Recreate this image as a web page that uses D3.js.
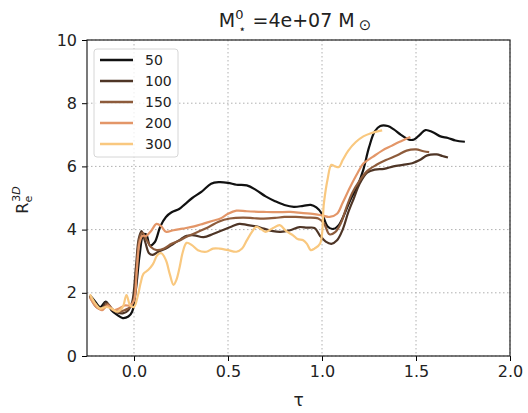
<!DOCTYPE html>
<html>
<head>
<meta charset="utf-8">
<title>Re3D vs tau</title>
<script src="https://cdn.jsdelivr.net/npm/d3@7"></script>
<style>
body { margin:0; background:#fff; }
text { font-family: "DejaVu Sans", sans-serif; fill:#222; }
.grid line { stroke:#b0b0b0; stroke-dasharray:1.5,2.5; stroke-width:1; }
</style>
</head>
<body>
<script>
// series labels and colours
const labels = ["50","100","150","200","300"];
const colors = ["#111111","#4e3526","#8d5b3b","#e39668","#f9c87f"];

// values: [tau, R_e^3D]
const s50 = [[-0.235,1.92],[-0.21,1.75],[-0.18,1.55],[-0.15,1.72],[-0.12,1.45],[-0.09,1.3],[-0.06,1.2],[-0.03,1.25],[-0.01,1.4],[0.01,2.1],[0.03,3.2],[0.05,3.85],[0.065,3.85],[0.085,3.5],[0.11,3.6],[0.14,4.1],[0.17,4.4],[0.2,4.55],[0.24,4.65],[0.27,4.8],[0.31,5.0],[0.36,5.2],[0.41,5.45],[0.45,5.5],[0.5,5.48],[0.545,5.42],[0.6,5.4],[0.65,5.25],[0.7,5.05],[0.75,4.9],[0.8,4.78],[0.85,4.72],[0.9,4.75],[0.94,4.78],[0.97,4.7],[1.0,4.5],[1.03,4.1],[1.06,4.02],[1.09,4.15],[1.12,4.5],[1.15,4.93],[1.19,5.4],[1.22,5.9],[1.25,6.6],[1.28,7.1],[1.31,7.28],[1.35,7.28],[1.38,7.18],[1.42,7.0],[1.46,6.85],[1.49,6.85],[1.52,7.0],[1.55,7.15],[1.59,7.08],[1.63,6.95],[1.67,6.9],[1.71,6.82],[1.76,6.78]];
const s100 = [[-0.235,1.9],[-0.2,1.6],[-0.17,1.5],[-0.15,1.7],[-0.12,1.5],[-0.09,1.38],[-0.06,1.35],[-0.03,1.45],[-0.01,1.7],[0.01,2.8],[0.025,3.7],[0.04,3.95],[0.06,3.6],[0.08,3.25],[0.1,3.2],[0.13,3.3],[0.17,3.4],[0.21,3.55],[0.25,3.7],[0.28,3.8],[0.32,3.82],[0.37,3.76],[0.42,3.86],[0.47,3.98],[0.52,4.1],[0.56,4.18],[0.6,4.15],[0.65,4.1],[0.69,4.03],[0.74,3.95],[0.78,3.93],[0.83,3.98],[0.88,4.08],[0.92,4.06],[0.96,4.05],[0.99,3.8],[1.02,3.62],[1.05,3.55],[1.08,3.66],[1.11,4.0],[1.14,4.55],[1.17,5.0],[1.2,5.45],[1.24,5.8],[1.28,5.9],[1.33,5.92],[1.38,6.0],[1.43,6.05],[1.48,6.1],[1.52,6.2],[1.56,6.35],[1.61,6.38],[1.64,6.33],[1.67,6.28]];
const s150 = [[-0.235,1.9],[-0.2,1.55],[-0.17,1.5],[-0.14,1.65],[-0.11,1.45],[-0.08,1.4],[-0.05,1.45],[-0.02,1.55],[0.0,1.8],[0.015,2.9],[0.03,3.75],[0.045,3.9],[0.065,3.7],[0.09,3.45],[0.12,3.35],[0.16,3.4],[0.2,3.55],[0.24,3.65],[0.28,3.77],[0.33,3.9],[0.4,4.09],[0.45,4.25],[0.51,4.35],[0.58,4.38],[0.64,4.36],[0.69,4.35],[0.75,4.37],[0.8,4.4],[0.86,4.4],[0.92,4.38],[0.98,4.35],[1.01,4.2],[1.04,3.85],[1.07,3.92],[1.1,4.2],[1.13,4.7],[1.16,5.15],[1.2,5.55],[1.24,5.85],[1.29,6.05],[1.34,6.2],[1.4,6.35],[1.45,6.5],[1.5,6.54],[1.54,6.48],[1.57,6.45]];
const s200 = [[-0.235,1.85],[-0.2,1.55],[-0.17,1.45],[-0.14,1.6],[-0.11,1.45],[-0.08,1.5],[-0.05,1.6],[-0.02,1.6],[0.0,1.75],[0.015,2.7],[0.03,3.6],[0.045,3.8],[0.065,3.8],[0.09,3.95],[0.12,4.18],[0.145,4.1],[0.17,3.93],[0.21,3.98],[0.26,4.03],[0.32,4.1],[0.37,4.19],[0.42,4.28],[0.46,4.35],[0.5,4.5],[0.545,4.6],[0.6,4.58],[0.69,4.56],[0.76,4.55],[0.83,4.56],[0.9,4.52],[0.95,4.5],[1.0,4.45],[1.04,4.4],[1.08,4.5],[1.11,4.85],[1.15,5.35],[1.19,5.8],[1.22,6.09],[1.27,6.3],[1.32,6.5],[1.37,6.65],[1.41,6.77],[1.47,6.93]];
const s300 = [[-0.235,1.95],[-0.21,1.7],[-0.18,1.5],[-0.15,1.55],[-0.12,1.5],[-0.09,1.4],[-0.06,1.55],[-0.04,1.93],[-0.02,1.6],[0.0,1.55],[0.02,1.9],[0.035,2.3],[0.05,2.6],[0.075,2.72],[0.1,2.9],[0.125,3.2],[0.146,3.25],[0.17,3.03],[0.19,2.6],[0.21,2.25],[0.225,2.4],[0.243,2.82],[0.26,3.3],[0.28,3.58],[0.31,3.5],[0.34,3.35],[0.385,3.3],[0.42,3.4],[0.455,3.4],[0.5,3.35],[0.545,3.3],[0.575,3.4],[0.6,3.66],[0.63,3.95],[0.65,4.09],[0.68,4.0],[0.7,3.93],[0.74,4.05],[0.775,4.14],[0.81,3.95],[0.846,3.82],[0.87,3.7],[0.9,3.66],[0.92,3.55],[0.94,3.35],[0.96,3.4],[0.99,3.56],[1.01,4.83],[1.03,5.6],[1.05,6.05],[1.07,6.0],[1.09,5.98],[1.11,6.2],[1.14,6.5],[1.18,6.77],[1.22,6.95],[1.26,7.05],[1.32,7.14]];
const seriesData = [s50, s100, s150, s200, s300];

const xTicks = [0.0, 0.5, 1.0, 1.5, 2.0];
const yTicks = [0, 2, 4, 6, 8, 10];

const W = 528, H = 413;
const margin = {top:40, right:18, bottom:57, left:87};
const w = W - margin.left - margin.right;
const h = H - margin.top - margin.bottom;

const svg = d3.select("body").append("svg")
    .attr("width", W).attr("height", H);

const x = d3.scaleLinear().domain([-0.25, 2.0]).range([0, w]);
const y = d3.scaleLinear().domain([0, 10]).range([h, 0]);

const plot = svg.append("g").attr("transform", `translate(${margin.left},${margin.top})`);

// grid
const grid = plot.append("g").attr("class","grid");
grid.selectAll(".gx").data(xTicks).join("line")
    .attr("x1", d => x(d)).attr("x2", d => x(d))
    .attr("y1", 0).attr("y2", h);
grid.selectAll(".gy").data(yTicks).join("line")
    .attr("x1", 0).attr("x2", w)
    .attr("y1", d => y(d)).attr("y2", d => y(d));

// lines
const line = d3.line()
    .x(d => x(d[0])).y(d => y(d[1]))
    .curve(d3.curveCatmullRom.alpha(0.5));

plot.append("g").selectAll("path").data(seriesData).join("path")
    .attr("d", line)
    .attr("fill","none")
    .attr("stroke", (d,i) => colors[i])
    .attr("stroke-width", 2.2)
    .attr("stroke-linejoin","round");

// axes
const xAxis = d3.axisBottom(x).tickValues(xTicks).tickFormat(d3.format(".1f")).tickSizeOuter(0).tickSize(5).tickPadding(5);
const yAxis = d3.axisLeft(y).tickValues(yTicks).tickFormat(d3.format("d")).tickSizeOuter(0).tickSize(5).tickPadding(5);

plot.append("g").attr("transform", `translate(0,${h})`).call(xAxis)
    .call(g => g.selectAll("text").style("font-size","16px").attr("fill","#222"));
plot.append("g").call(yAxis)
    .call(g => g.selectAll("text").style("font-size","16px").attr("fill","#222"));
plot.selectAll(".domain").remove();

// frame
plot.append("rect").attr("width", w).attr("height", h)
    .attr("fill","none").attr("stroke","#222").attr("stroke-width",1.2);

// legend
const leg = plot.append("g").attr("transform","translate(7,9)");
leg.append("rect").attr("width",84).attr("height",108).attr("rx",3)
    .attr("fill","#fff").attr("fill-opacity",0.8).attr("stroke","#d6d6d6");
labels.forEach((lab,i) => {
    const yy = 11 + i*21;
    leg.append("line").attr("x1",6).attr("x2",39).attr("y1",yy).attr("y2",yy)
        .attr("stroke", colors[i]).attr("stroke-width",2.5);
    leg.append("text").attr("x",51).attr("y",yy).attr("dy","0.35em")
        .style("font-size","14px").text(lab);
});

// title: M with superscript 0 and subscript star, then "=4e+07 M" with sun symbol
const tg = svg.append("g");
const tx = margin.left + w/2;
const t1 = tg.append("text").attr("x", tx - 55).attr("y", 27)
    .attr("text-anchor","end").style("font-size","19px");
t1.append("tspan").text("M");
t1.append("tspan").attr("dy",-8).style("font-size","13px").text("0");
tg.append("text").attr("x", tx - 60).attr("y", 33)
    .style("font-size","12px").text("⋆");
const t2 = tg.append("text").attr("x", tx - 46).attr("y", 27)
    .style("font-size","19px");
t2.append("tspan").text("=4e+07 M");
t2.append("tspan").attr("dx",4).attr("dy",3).style("font-size","15px").text("⊙");

// x label
svg.append("text").attr("x", margin.left + w/2).attr("y", 406)
    .attr("text-anchor","middle").style("font-size","17px").text("τ");

// y label
const yl = svg.append("text")
    .attr("transform", `translate(28,${margin.top + h/2 + 2}) rotate(-90)`)
    .attr("text-anchor","middle").style("font-size","16px");
yl.append("tspan").text("R");
yl.append("tspan").attr("dy",4).style("font-size","11px").text("e");
yl.append("tspan").attr("dx",-6).attr("dy",-12).style("font-size","11px").text("3");
yl.append("tspan").style("font-size","11px").style("font-style","italic").text("D");
</script>
</body>
</html>
